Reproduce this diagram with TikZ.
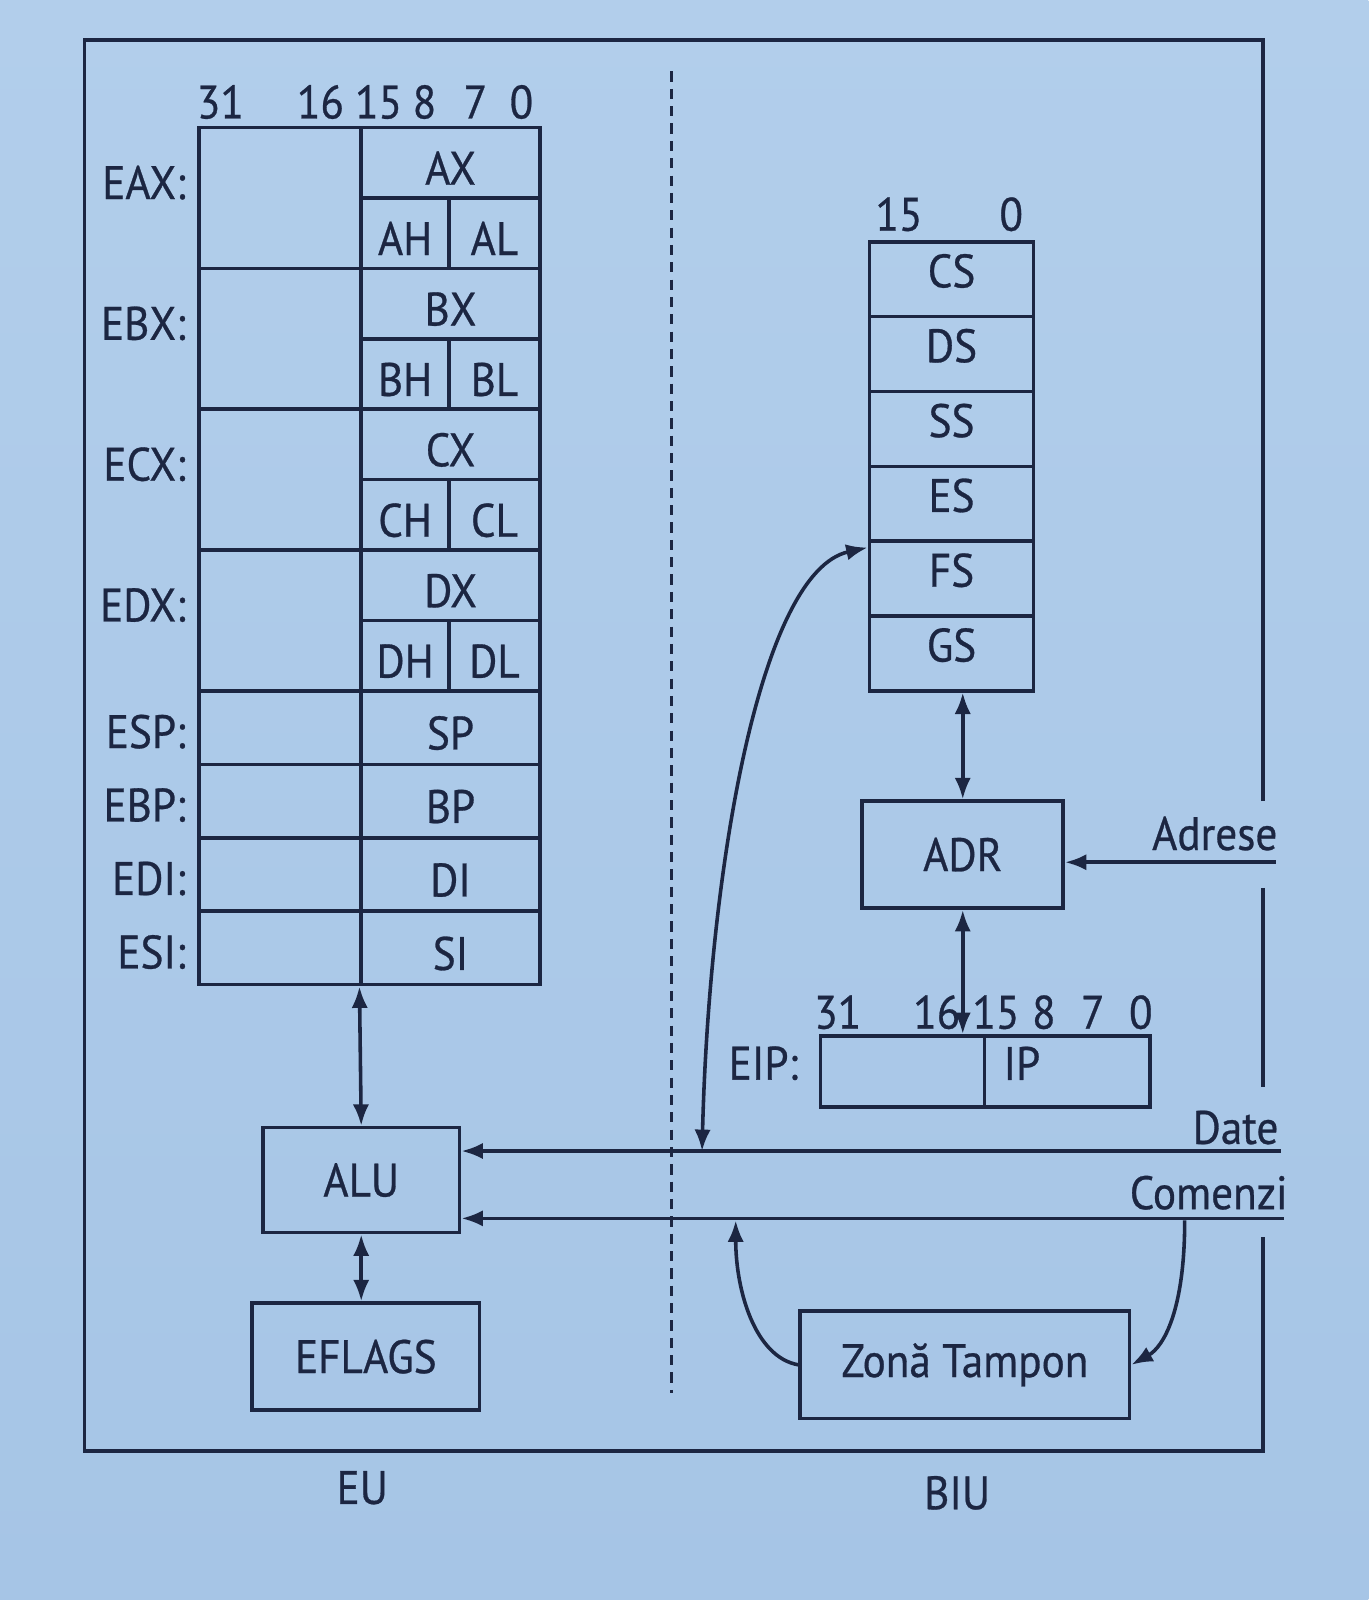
\documentclass[tikz,border=0pt]{standalone}
\usepackage{fontspec}
\setmainfont{PT Sans}[FakeStretch=0.92,FakeBold=0.6]
\usetikzlibrary{arrows.meta,positioning}

\definecolor{ink}{HTML}{1C2642}
\definecolor{slidetop}{HTML}{B2CEEB}
\definecolor{slidebot}{HTML}{A6C5E6}

\tikzset{
  every node/.style={font=\fontsize{46}{54}\selectfont,text=ink},
  cell/.style={draw=ink,line width=3.5pt,inner sep=0pt,text height=43pt,text depth=0pt},
  seg/.style={draw=ink,line width=3.5pt,inner sep=0pt,minimum width=161pt,minimum height=73.3pt,text height=32pt,text depth=16pt},
  unit/.style={draw=ink,line width=3.5pt,inner sep=0pt},
  lbl/.style={inner sep=0pt},
  wire/.style={ink,line width=3.5pt},
  tip/.style={wire,-{Latex[length=21pt,width=16pt]}},
  twotip/.style={wire,{Latex[length=21pt,width=16pt]}-{Latex[length=21pt,width=16pt]}},
}

\begin{document}
\begin{tikzpicture}[x=1pt,y=-1pt]
  \shade[top color=slidetop,bottom color=slidebot] (0,0) rectangle (1341,1568);
  \useasboundingbox (0,0) rectangle (1341,1568);

  % EU / BIU frame
  \draw[wire] (1238,785) -- (1238,39) -- (83,39) -- (83,1422) -- (1238,1422) -- (1238,1212);
  \draw[wire] (1238,870) -- (1238,1065);
  \draw[wire,line width=3pt,dash pattern=on 10pt off 7pt] (658,70) -- (658,1365);

  % general registers
  \foreach \b/\x in {31/216,16/314,15/371,8/416,7/466,0/511}
    \node[lbl] (bit\b) at (\x,100) {\b};
  \foreach \g [count=\i from 0] in {A,B,C,D}{
    \pgfmathsetmacro\yy{125+138*\i}
    \node[cell,minimum width=159pt,minimum height=138pt] (E\g X) at (274.5,\yy+69) {};
    \node[cell,minimum width=175pt,minimum height=69pt] (\g X) at (441.5,\yy+34.5) {\g X};
    \node[cell,minimum width=86pt,minimum height=69pt] (\g H) at (397,\yy+103.5) {\g H};
    \node[cell,minimum width=89pt,minimum height=69pt] (\g L) at (484.5,\yy+103.5) {\g L};
    \node[lbl,anchor=east] (tag\g) at (182,\yy+54) {E\g X:};
  }
  \foreach \g [count=\i from 0] in {SP,BP,DI,SI}{
    \pgfmathsetmacro\yy{677+72*\i}
    \node[cell,minimum width=159pt,minimum height=72pt] (E\g) at (274.5,\yy+36) {};
    \node[cell,minimum width=175pt,minimum height=72pt] (\g) at (441.5,\yy+36) {\g};
    \node[lbl,anchor=east] (tag\g) at (182,\yy+40) {E\g:};
  }

  % segment registers
  \node[lbl] (seg15) at (881,210) {15};
  \node[lbl] (seg0) at (991,210) {0};
  \foreach \s [count=\i from 0] in {CS,DS,SS,ES,FS,GS}
    \node[seg] (\s) at (932.5,{273.67+73.33*\i}) {\s};

  \node[unit,minimum width=197pt,minimum height=105pt] (adr) at (943.5,837.5) {ADR};

  % instruction pointer
  \foreach \b/\x in {31/821,16/918,15/976,8/1023,7/1071,0/1118}
    \node[lbl] (ebit\b) at (\x,992) {\b};
  \node[unit,minimum width=161pt,minimum height=70pt] (eiphi) at (884.5,1050) {};
  \node[unit,minimum width=162pt,minimum height=70pt] (eiplo) at (1046,1050) {};
  \node[lbl,anchor=west] (ip) at ([xshift=20pt,yshift=8pt]eiplo.west) {IP};
  \node[lbl,anchor=east] (eiptag) at ([xshift=-20pt,yshift=8pt]eiphi.west) {EIP:};

  \node[unit,minimum width=193pt,minimum height=103pt] (alu) at (354,1156.5) {ALU};
  \node[unit,minimum width=223pt,minimum height=105pt] (flags) at (358.5,1329.5) {EFLAGS};
  \node[unit,minimum width=323pt,minimum height=105pt] (buf) at (945.5,1337.5) {Zonă Tampon};

  \node[lbl] (eu) at (355,1458) {EU};
  \node[lbl] (biu) at (938,1463) {BIU};

  % buses
  \coordinate (adrin) at (1250,845);
  \coordinate (datein) at (1255,1128);
  \coordinate (cmdin) at (1258,1194);
  \draw[tip] (adrin) -- (adrin -| adr.east);
  \draw[tip] (datein) -- (datein -| alu.east);
  \draw[tip] (cmdin) -- (cmdin -| alu.east);
  \node[lbl,anchor=base east] (adrtag) at (1252,833) {Adrese};
  \node[lbl,anchor=base east] (datetag) at (1253,1121) {Date};
  \node[lbl,anchor=base east] (cmdtag) at (1262,1185) {Comenzi};

  % links
  \draw[twotip] (GS.south -| adr.north) -- (adr.north);
  \draw[twotip] (adr.south) -- (adr.south |- eiphi.north);
  \draw[twotip] (SI.south west) -- (alu.north);
  \draw[twotip] (alu.south) -- (alu.south |- flags.north);
  \coordinate (datehook) at (688,1128);
  \draw[twotip] (datehook) .. controls (695,850) and (745,560) .. ([yshift=-8pt]FS.north west);
  \coordinate (cmdleft) at (721,1196);
  \coordinate (cmdright) at (1161,1196);
  \draw[tip] (buf.west) .. controls (740,1330) and (721,1265) .. (cmdleft);
  \draw[tip] (cmdright) .. controls (1161,1285) and (1140,1320) .. (buf.east);
\end{tikzpicture}
\end{document}
